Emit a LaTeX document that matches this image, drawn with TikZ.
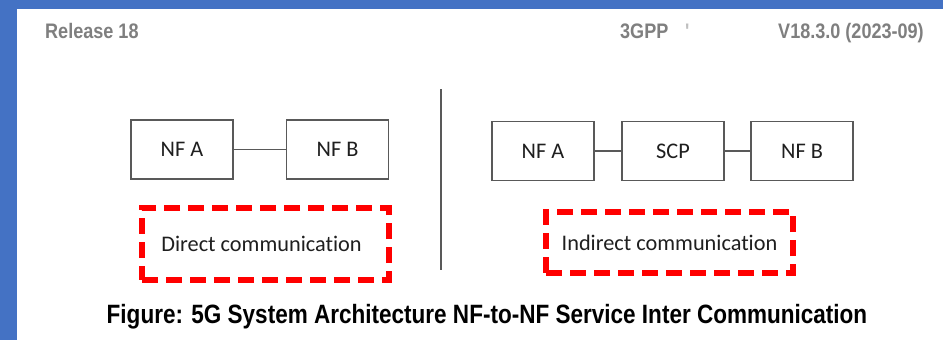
\documentclass[tikz,border=0pt]{standalone}
\usepackage{fontspec}
\setmainfont{Liberation Sans}
\newfontfamily\narrowfont[FakeStretch=0.86]{Liberation Sans}
\newfontfamily\capfont[FakeStretch=0.85]{Liberation Sans}
\newfontfamily\boxfont[Ligatures=NoCommon]{Carlito}
\definecolor{frameblue}{HTML}{4472C4}
\definecolor{hdrgray}{HTML}{7F7F7F}
\definecolor{boxgray}{HTML}{595959}
\definecolor{txtdark}{HTML}{1F1F1F}
\tikzset{
  nfbox/.style={draw=boxgray, line width=1.6pt, minimum width=102pt, minimum height=59pt, inner sep=0pt,
    font=\boxfont\fontsize{22.3}{25}\selectfont, text=txtdark},
  link/.style={draw=boxgray, line width=1.6pt},
  dashbox/.style={draw=red, line width=5.5pt, dash pattern=on 16pt off 8pt, minimum width=247pt, inner sep=0pt,
    font=\boxfont\fontsize{22.3}{25}\selectfont, text=txtdark},
  hdr/.style={anchor=base west, inner sep=0pt, text=hdrgray, font=\narrowfont\bfseries\fontsize{21}{24}\selectfont},
}
\begin{document}
\begin{tikzpicture}[x=1pt,y=-1pt]
\useasboundingbox (0,0) rectangle (943,340);
\fill[white] (0,0) rectangle (943,340);
\fill[frameblue] (0,0) rectangle (943,9);
\fill[frameblue] (0,0) rectangle (17,340);
% header
\node[hdr] (rel) at (45,38.3) {Release 18};
\node[hdr] (gpp) at (620,38.3) {3GPP};
\node[hdr, text=hdrgray!50] (tick) at (685,38.3) {'};
\node[hdr] (ver) at (778,38.3) {V18.3.0 (2023-09)};
% left: direct
\node[nfbox] (la) at (182,149.5) {NF A};
\node[nfbox] (lb) at (337.5,149.5) {NF B};
\draw[link] (la) -- (lb);
\node[dashbox, minimum height=72pt] (ld) at (265.5,244) {\hspace*{-8pt}Direct communication};
% separator
\coordinate (s1) at (440.5,89);
\coordinate (s2) at (440.5,270);
\draw[boxgray, line width=2pt] (s1) -- (s2);
% right: indirect
\node[nfbox] (ra) at (543,151) {NF A};
\node[nfbox] (rs) at (673,151) {SCP};
\node[nfbox] (rb) at (802,151) {NF B};
\draw[link] (ra) -- (rs);
\draw[link] (rs) -- (rb);
\node[dashbox, minimum height=61pt] (rd) at (669.5,242.5) {Indirect communication};
% caption
\node[anchor=base, inner sep=0pt, font=\capfont\bfseries\fontsize{26.5}{30}\selectfont] (cap) at (487,323) {Figure: 5G System Architecture NF-to-NF Service Inter Communication};
\end{tikzpicture}
\end{document}
